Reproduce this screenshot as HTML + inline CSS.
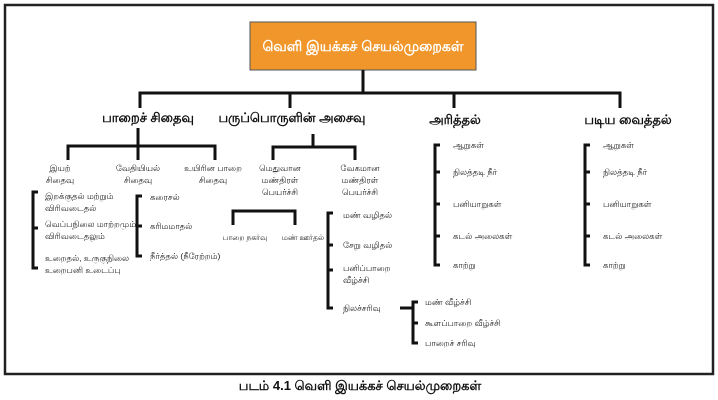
<!DOCTYPE html>
<html><head><meta charset="utf-8"><style>
body{margin:0;background:#fff;}
svg{display:block;font-family:"Liberation Sans","Noto Sans CJK SC",sans-serif;}
.s{font-size:8.5px;fill:#222;}
.h{font-size:13px;font-weight:bold;fill:#111;}
</style></head><body>
<svg width="718" height="400" viewBox="0 0 718 400">
<rect x="5" y="5" width="708" height="369" fill="none" stroke="#222" stroke-width="2.5"/>
<rect x="250" y="22" width="226" height="48" fill="#f0962a" stroke="#555" stroke-width="1"/>
<text x="363" y="51" text-anchor="middle" style="font-size:14px;font-weight:bold;fill:#fff">வெளி இயக்கச் செயல்முறைகள்</text>
<g stroke="#111" stroke-width="3" fill="none">
<path d="M363 70V93M140 108V93H620V108M290 93V108M454 93V108"/>
<path d="M138 128V146M68 160V146H215V160M138 146V160"/>
<path d="M313 134V147M273 160V147H355V160"/>
<path d="M38 192H33V268H38M33 228H38"/>
<path d="M142 196H137V256H142M137 226H142"/>
<path d="M233 225V211H295V225"/>
<path d="M333 213H328V308H333M328 245H333M328 270H333"/>
<path d="M400 308H413M418 302H413V343H418M413 323H418"/>
<path d="M440 145H435V265H440M435 172H440M435 204H440M435 236H440"/>
<path d="M590 145H585V265H590M585 172H590M585 204H590M585 236H590"/>
</g>
<text class="h" x="148" y="122" text-anchor="middle">பாறைச் சிதைவு</text>
<text class="h" x="292" y="122" text-anchor="middle">பருப்பொருளின் அசைவு</text>
<text class="h" x="455" y="124" text-anchor="middle">அரித்தல்</text>
<text class="h" x="628" y="124" text-anchor="middle">படிய வைத்தல்</text>
<g class="s" text-anchor="middle">
<text x="60" y="171">இயற்</text><text x="60" y="183">சிதைவு</text>
<text x="138" y="171">வேதியியல்</text><text x="138" y="183">சிதைவு</text>
<text x="213" y="171">உயிரின பாறை</text><text x="213" y="183">சிதைவு</text>
<text x="280" y="171">மெதுவான</text><text x="280" y="183">மண்திரள்</text><text x="280" y="195">பெயர்ச்சி</text>
<text x="360" y="171">வேகமான</text><text x="360" y="183">மண்திரள்</text><text x="360" y="195">பெயர்ச்சி</text>
<text x="245" y="240" style="font-size:7.5px">பாறை நகர்வு</text><text x="303" y="240" style="font-size:7.5px">மண் ஊர்தல்</text>
</g>
<g class="s">
<text x="45" y="199">இறக்குதல் மற்றும்</text><text x="45" y="211">விரிவடைதல்</text>
<text x="45" y="227">வெப்பநிலை மாற்றமும்</text><text x="45" y="239">விரிவடைதலும்</text>
<text x="45" y="261">உறைதல், உருகுநிலை</text><text x="45" y="273">உறைபனி உடைப்பு</text>
<text x="150" y="200">கரைசல்</text>
<text x="150" y="229">கரிமமாதல்</text>
<text x="150" y="259">நீர்த்தல் (நீரேற்றம்)</text>
<text x="343" y="218">மண் வழிதல்</text>
<text x="343" y="248">சேறு வழிதல்</text>
<text x="343" y="271">பனிப்பாறை</text><text x="343" y="283">வீழ்ச்சி</text>
<text x="343" y="311">நிலச்சரிவு</text>
<text x="425" y="305">மண் வீழ்ச்சி</text>
<text x="425" y="326">கூளப்பாறை வீழ்ச்சி</text>
<text x="425" y="346">பாறைச் சரிவு</text>
<text x="453" y="148">ஆறுகள்</text><text x="453" y="175">நிலத்தடி நீர்</text><text x="453" y="207">பனியாறுகள்</text><text x="453" y="239">கடல் அலைகள்</text><text x="453" y="268">காற்று</text>
<text x="603" y="148">ஆறுகள்</text><text x="603" y="175">நிலத்தடி நீர்</text><text x="603" y="207">பனியாறுகள்</text><text x="603" y="239">கடல் அலைகள்</text><text x="603" y="268">காற்று</text>
</g>
<text x="360" y="390" text-anchor="middle" style="font-size:13px;font-weight:bold;fill:#111">படம் 4.1 வெளி இயக்கச் செயல்முறைகள்</text>
</svg>
</body></html>
